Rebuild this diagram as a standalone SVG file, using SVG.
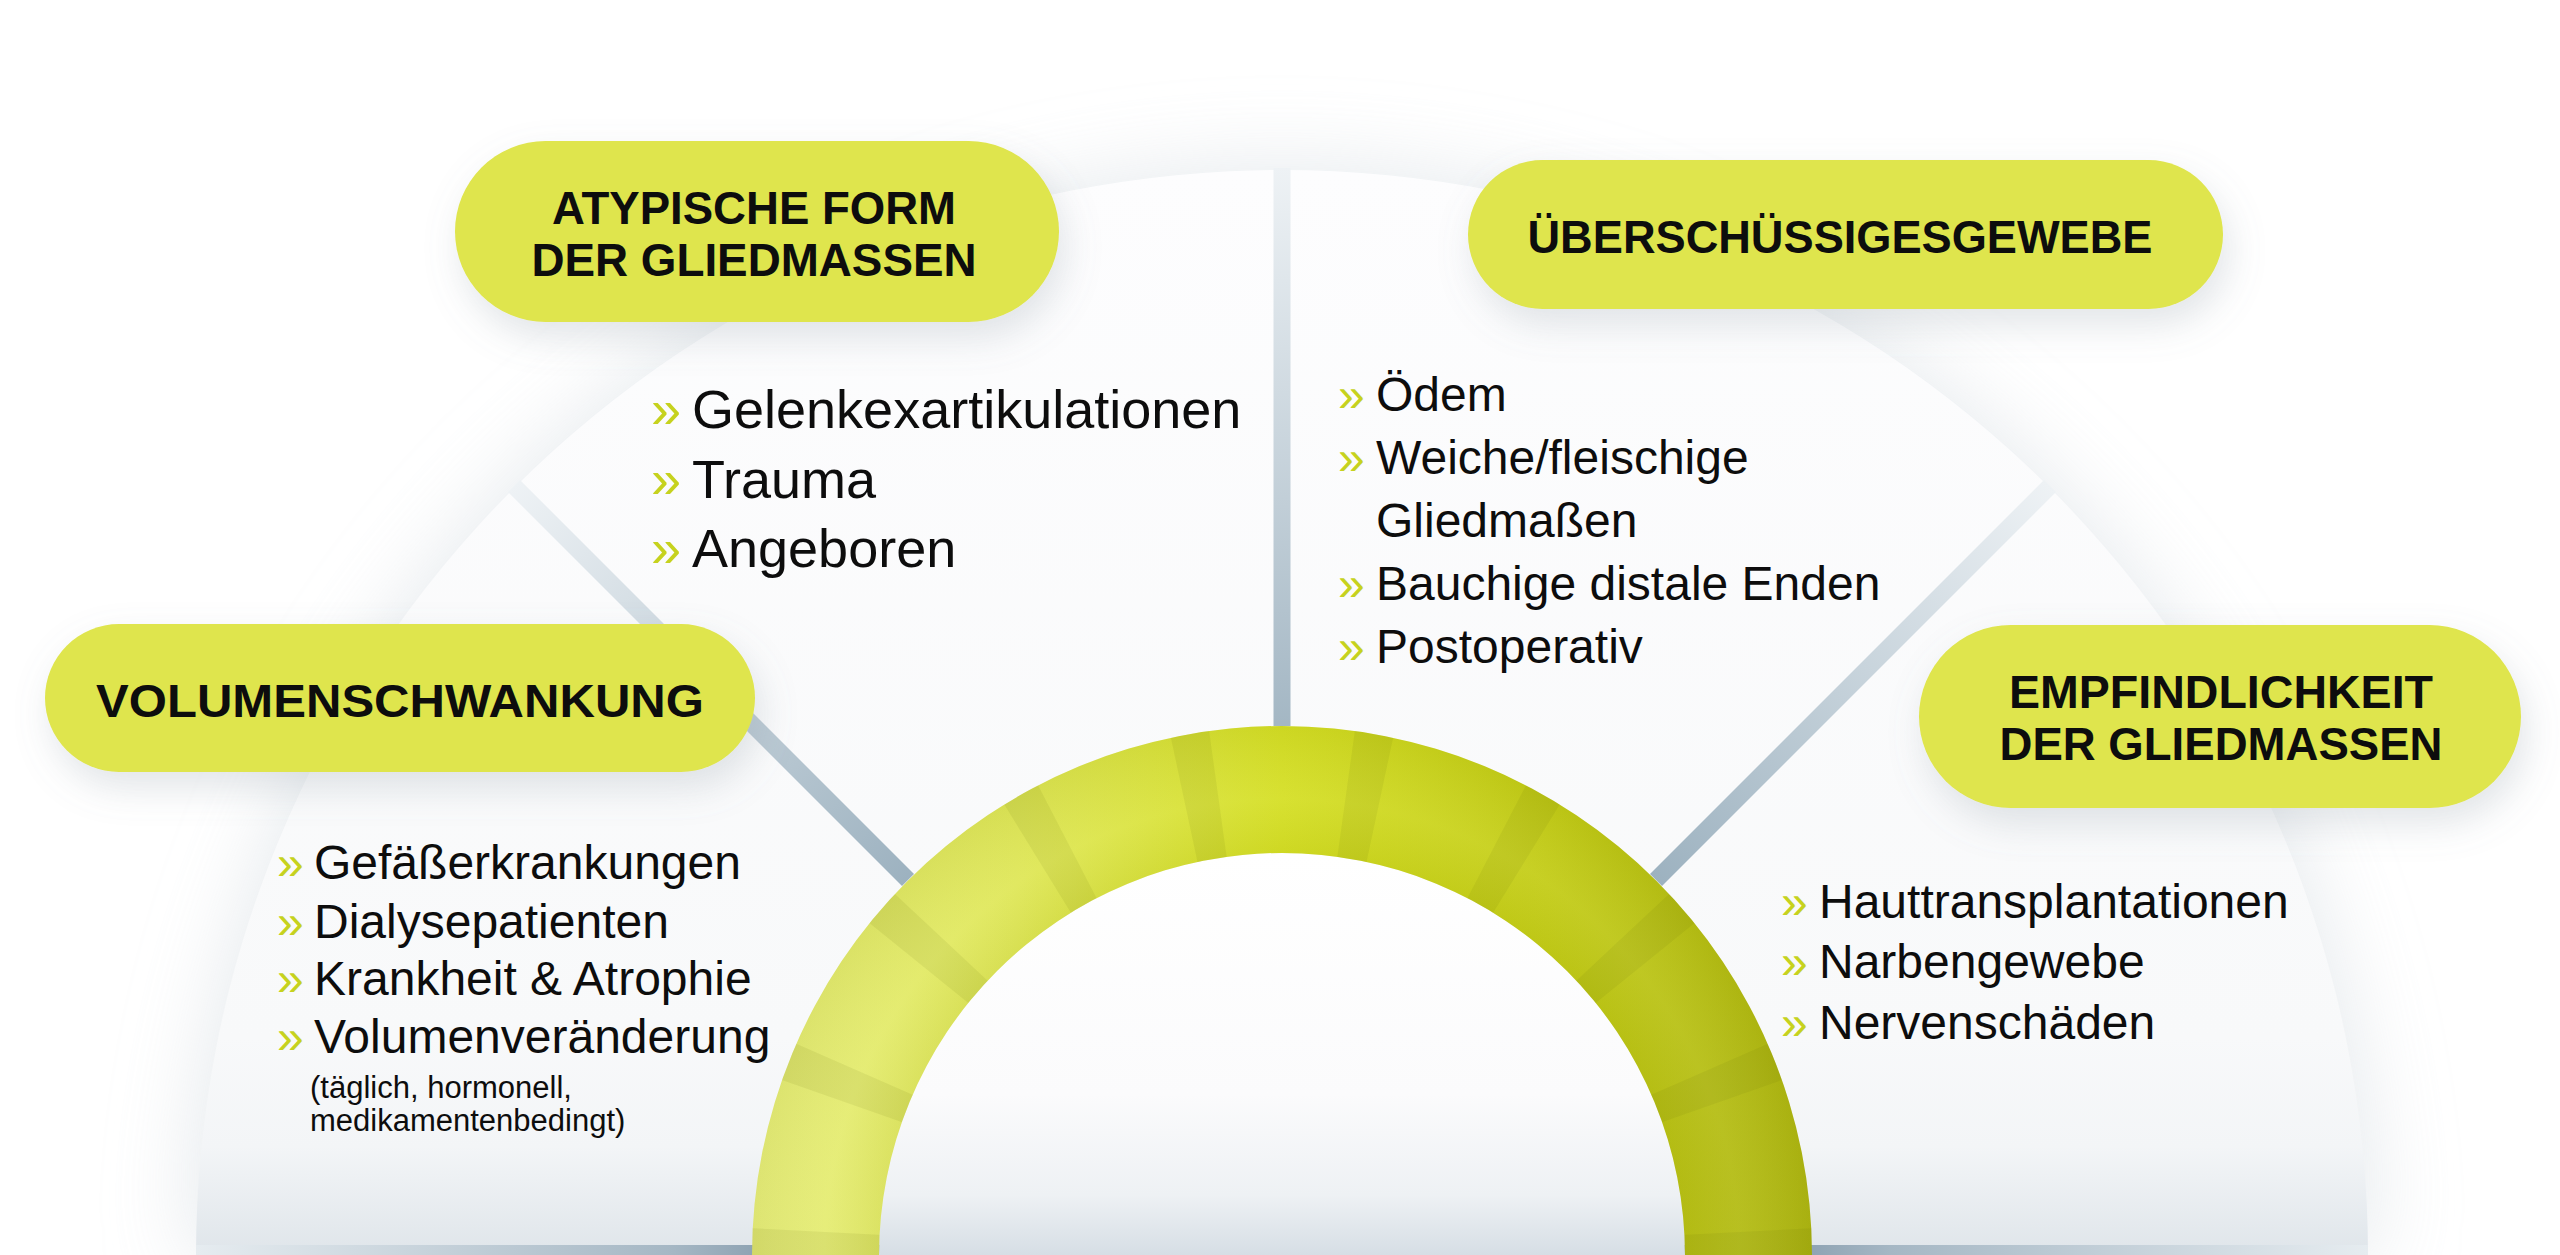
<svg xmlns="http://www.w3.org/2000/svg" width="2560" height="1255" viewBox="0 0 2560 1255">
<defs>
<style>
.t{font-family:"Liberation Sans",Arial,sans-serif;fill:#0d0d0d}
.h{font-weight:700;font-size:46px;text-anchor:middle}
.li{font-size:48px}
.li1{font-size:54px}
.sm{font-size:31px}
.ch{fill:#c6d21e}
.pill{fill:#dfe54d}
.div{stroke-width:17;fill:none}
.band{fill:#5a5f00;opacity:0.09}
</style>
<filter id="halo" x="-20%" y="-30%" width="140%" height="160%">
<feGaussianBlur stdDeviation="45"/>
</filter>
<filter id="pshadow" x="-20%" y="-30%" width="140%" height="180%">
<feDropShadow dx="6" dy="16" stdDeviation="18" flood-color="#7d8a95" flood-opacity="0.22"/>
</filter>
<linearGradient id="fanGrad" x1="0" y1="168" x2="0" y2="1255" gradientUnits="userSpaceOnUse">
<stop offset="0" stop-color="#fdfdfe"/>
<stop offset="0.8" stop-color="#f8f9fa"/>
<stop offset="0.9" stop-color="#f3f5f7"/>
<stop offset="1" stop-color="#dfe5ea"/>
</linearGradient>
<linearGradient id="innerGrad" x1="0" y1="853" x2="0" y2="1255" gradientUnits="userSpaceOnUse">
<stop offset="0" stop-color="#ffffff"/>
<stop offset="0.6" stop-color="#fbfbfc"/>
<stop offset="0.85" stop-color="#eef1f4"/>
<stop offset="1" stop-color="#d6dee5"/>
</linearGradient>
<linearGradient id="stripGrad" x1="196" y1="0" x2="2368" y2="0" gradientUnits="userSpaceOnUse">
<stop offset="0" stop-color="#e6ecf0"/>
<stop offset="0.22" stop-color="#a5b7c4"/>
<stop offset="0.26" stop-color="#8da2b2"/>
<stop offset="0.74" stop-color="#8da2b2"/>
<stop offset="0.78" stop-color="#a5b7c4"/>
<stop offset="1" stop-color="#e6ecf0"/>
</linearGradient>
<linearGradient id="dv" x1="1282" y1="168" x2="1282" y2="723" gradientUnits="userSpaceOnUse">
<stop offset="0" stop-color="#eef2f5"/>
<stop offset="1" stop-color="#a4b7c4"/>
</linearGradient>
<linearGradient id="dl" x1="514" y1="486" x2="906" y2="878" gradientUnits="userSpaceOnUse">
<stop offset="0" stop-color="#eef2f5"/>
<stop offset="1" stop-color="#9db2c0"/>
</linearGradient>
<linearGradient id="dr" x1="2050" y1="486" x2="1658" y2="878" gradientUnits="userSpaceOnUse">
<stop offset="0" stop-color="#eef2f5"/>
<stop offset="1" stop-color="#9db2c0"/>
</linearGradient>
<linearGradient id="ringGrad" x1="752" y1="0" x2="1812" y2="0" gradientUnits="userSpaceOnUse">
<stop offset="0" stop-color="#e7ee7c"/>
<stop offset="0.25" stop-color="#dfe757"/>
<stop offset="0.5" stop-color="#d5df24"/>
<stop offset="0.75" stop-color="#c3cc16"/>
<stop offset="1" stop-color="#adb511"/>
</linearGradient>
<radialGradient id="ringShade" cx="1282" cy="1256" r="532" gradientUnits="userSpaceOnUse">
<stop offset="0.75" stop-color="#6b7000" stop-opacity="0.07"/>
<stop offset="0.86" stop-color="#ffffff" stop-opacity="0.06"/>
<stop offset="1" stop-color="#6b7000" stop-opacity="0.08"/>
</radialGradient>
<clipPath id="ringClip">
<path d="M752 1256 A530 530 0 0 1 1812 1256 L1812 1260 L1685 1260 L1685 1256 A403 403 0 0 0 879 1256 L879 1260 L752 1260 Z"/>
</clipPath>
</defs>

<rect x="0" y="0" width="2560" height="1255" fill="#ffffff"/>

<g id="fan">
<path d="M196 1260 A1086 1086 0 0 1 2368 1260 Z" fill="#d9dfe4" opacity="0.75" filter="url(#halo)"/>
<path d="M196 1256 A1086 1086 0 0 1 2368 1256 L2368 1255 L196 1255 Z" fill="url(#fanGrad)"/>
<rect x="196" y="1245" width="2172" height="10" fill="url(#stripGrad)"/>
</g>

<g id="connectors">
<line class="div" x1="1282" y1="168" x2="1282" y2="726" stroke="url(#dv)"/>
<line class="div" x1="514" y1="486" x2="908" y2="880" stroke="url(#dl)"/>
<line class="div" x1="2050" y1="486" x2="1656" y2="880" stroke="url(#dr)"/>
</g>

<g id="ring">
<path d="M879 1256 A403 403 0 0 1 1685 1256 L1685 1255 L879 1255 Z" fill="url(#innerGrad)"/>
<path d="M752 1256 A530 530 0 0 1 1812 1256 L1812 1260 L1685 1260 L1685 1256 A403 403 0 0 0 879 1256 L879 1260 L752 1260 Z" fill="url(#ringGrad)"/>
<g clip-path="url(#ringClip)">
<polygon class="band" points="1841.7,1275.5 1841.2,1226.7 1661.5,1236.1 1661.8,1269.3"/>
<polygon class="band" points="722.8,1226.7 722.3,1275.5 902.2,1269.3 902.5,1236.1"/>
<polygon class="band" points="1810.2,1070.0 1795.2,1031.8 1630.2,1103.9 1640.4,1129.8"/>
<polygon class="band" points="1717.8,904.3 1691.0,873.4 1559.5,996.4 1577.7,1017.4"/>
<polygon class="band" points="1575.4,779.0 1539.7,758.8 1456.9,918.6 1481.1,932.3"/>
<polygon class="band" points="1399.4,708.4 1359.0,701.3 1334.2,879.6 1361.7,884.4"/>
<polygon class="band" points="1164.6,708.4 1205.0,701.3 1229.8,879.6 1202.3,884.4"/>
<polygon class="band" points="988.6,779.0 1024.3,758.8 1107.1,918.6 1082.9,932.3"/>
<polygon class="band" points="846.2,904.3 873.0,873.4 1004.5,996.4 986.3,1017.4"/>
<polygon class="band" points="753.8,1070.0 768.8,1031.8 933.8,1103.9 923.6,1129.8"/>
<rect x="740" y="720" width="1090" height="540" fill="url(#ringShade)"/>
</g>
</g>

<g id="node-atypische">
<rect class="pill" x="455" y="141" width="604" height="181" rx="90.5" filter="url(#pshadow)"/>
<text class="t h" x="754" y="224" textLength="404" lengthAdjust="spacingAndGlyphs">ATYPISCHE FORM</text>
<text class="t h" x="754" y="276" textLength="445" lengthAdjust="spacingAndGlyphs">DER GLIEDMASSEN</text>
<text class="t li1 ch" x="651" y="428">»</text><text class="t li1" x="692" y="428">Gelenkexartikulationen</text>
<text class="t li1 ch" x="651" y="498">»</text><text class="t li1" x="692" y="498">Trauma</text>
<text class="t li1 ch" x="651" y="567">»</text><text class="t li1" x="692" y="567">Angeboren</text>
</g>

<g id="node-ueberschuessig">
<rect class="pill" x="1468" y="160" width="755" height="149" rx="74.5" filter="url(#pshadow)"/>
<text class="t h" x="1840" y="253" textLength="625" lengthAdjust="spacingAndGlyphs">ÜBERSCHÜSSIGESGEWEBE</text>
<text class="t li ch" x="1338" y="411">»</text><text class="t li" x="1376" y="411">Ödem</text>
<text class="t li ch" x="1338" y="474">»</text><text class="t li" x="1376" y="474">Weiche/fleischige</text>
<text class="t li" x="1376" y="537">Gliedmaßen</text>
<text class="t li ch" x="1338" y="600">»</text><text class="t li" x="1376" y="600">Bauchige distale Enden</text>
<text class="t li ch" x="1338" y="663">»</text><text class="t li" x="1376" y="663">Postoperativ</text>
</g>

<g id="node-volumen">
<rect class="pill" x="45" y="624" width="710" height="148" rx="74" filter="url(#pshadow)"/>
<text class="t h" x="400" y="717" textLength="608" lengthAdjust="spacingAndGlyphs">VOLUMENSCHWANKUNG</text>
<text class="t li ch" x="277" y="879">»</text><text class="t li" x="314" y="879">Gefäßerkrankungen</text>
<text class="t li ch" x="277" y="938">»</text><text class="t li" x="314" y="938">Dialysepatienten</text>
<text class="t li ch" x="277" y="995">»</text><text class="t li" x="314" y="995">Krankheit &amp; Atrophie</text>
<text class="t li ch" x="277" y="1053">»</text><text class="t li" x="314" y="1053">Volumenveränderung</text>
<text class="t sm" x="310" y="1098">(täglich, hormonell,</text>
<text class="t sm" x="310" y="1131">medikamentenbedingt)</text>
</g>

<g id="node-empfindlichkeit">
<rect class="pill" x="1919" y="625" width="602" height="183" rx="91.5" filter="url(#pshadow)"/>
<text class="t h" x="2221" y="708" textLength="424" lengthAdjust="spacingAndGlyphs">EMPFINDLICHKEIT</text>
<text class="t h" x="2221" y="760" textLength="443" lengthAdjust="spacingAndGlyphs">DER GLIEDMASSEN</text>
<text class="t li ch" x="1781" y="918">»</text><text class="t li" x="1819" y="918">Hauttransplantationen</text>
<text class="t li ch" x="1781" y="978">»</text><text class="t li" x="1819" y="978">Narbengewebe</text>
<text class="t li ch" x="1781" y="1039">»</text><text class="t li" x="1819" y="1039">Nervenschäden</text>
</g>
</svg>
